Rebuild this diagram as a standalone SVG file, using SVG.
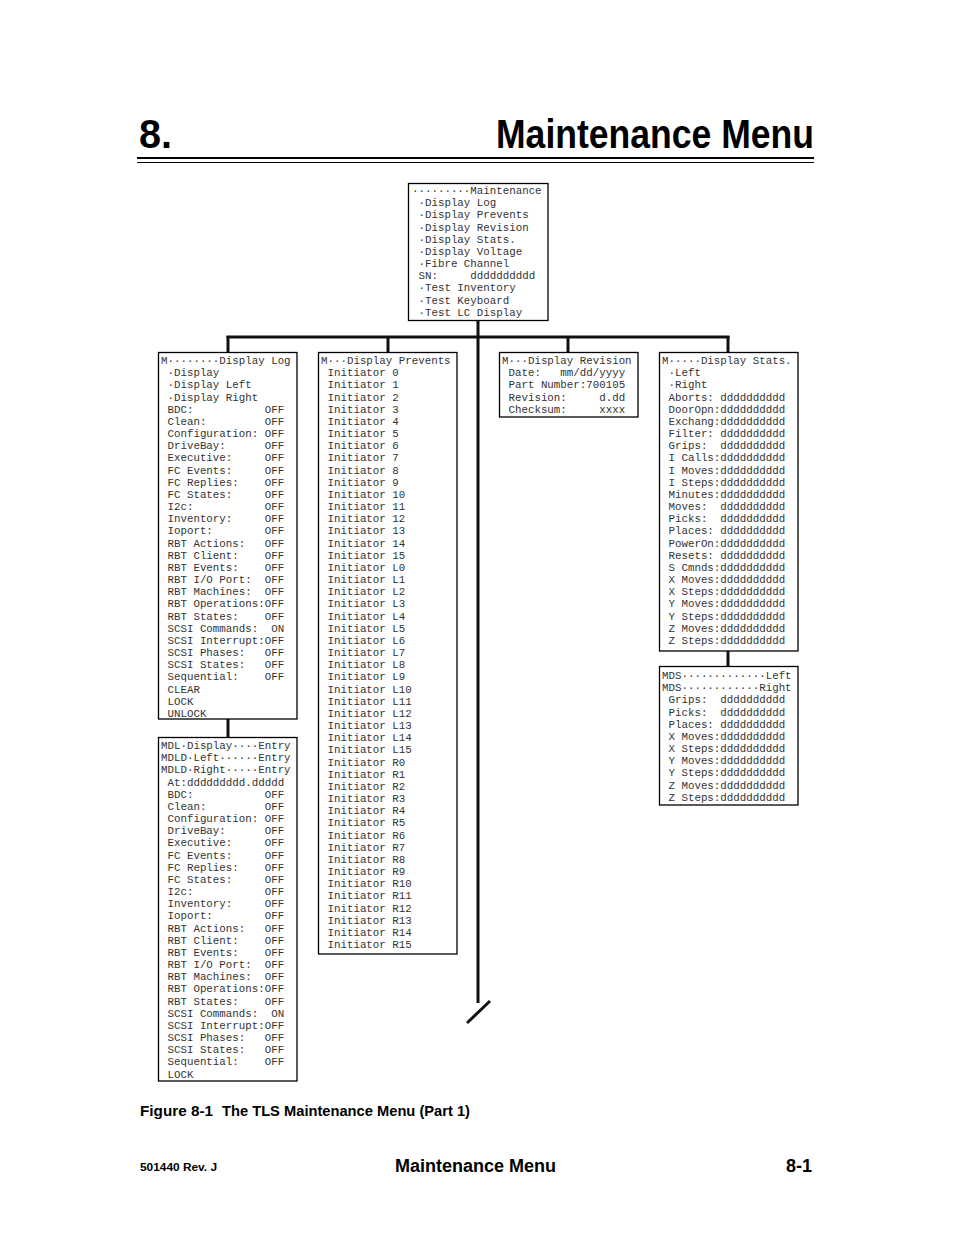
<svg xmlns="http://www.w3.org/2000/svg" width="954" height="1235" viewBox="0 0 954 1235" xml:space="preserve">
<style>
.box{fill:#fff;stroke:#000;stroke-width:1.3}
.mono{font-family:"Liberation Mono","DejaVu Sans Mono",monospace;font-size:10.8px;fill:#333;white-space:pre}
.conn{stroke:#111;stroke-width:3;fill:none}
.hdr{font-family:"Liberation Sans",Arial,sans-serif;font-weight:bold;fill:#000}
</style>
<rect width="954" height="1235" fill="#fff"/>
<g id="header">
<text class="hdr" x="139" y="148" font-size="40" textLength="33" lengthAdjust="spacingAndGlyphs">8.</text>
<text class="hdr" x="496" y="148" font-size="40" textLength="318" lengthAdjust="spacingAndGlyphs">Maintenance Menu</text>
<line x1="137" y1="158" x2="814" y2="158" stroke="#000" stroke-width="2"/>
<line x1="137" y1="162.5" x2="814" y2="162.5" stroke="#000" stroke-width="1"/>
</g>
<g id="connectors">
<line class="conn" x1="478" y1="320" x2="478" y2="1003"/>
<line class="conn" x1="226.5" y1="337" x2="729.5" y2="337"/>
<line class="conn" x1="228" y1="336" x2="228" y2="352"/>
<line class="conn" x1="388" y1="336" x2="388" y2="352"/>
<line class="conn" x1="568" y1="336" x2="568" y2="352"/>
<line class="conn" x1="728" y1="336" x2="728" y2="352"/>
<line class="conn" x1="228" y1="719" x2="228" y2="737"/>
<line class="conn" x1="728" y1="651" x2="728" y2="666"/>
<line class="conn" x1="467" y1="1023" x2="490" y2="1001"/>
</g>
<g id="n-maintenance">
<rect class="box" x="408.5" y="183.5" width="139.5" height="137"/>
<text class="mono" y="194"><tspan x="412">·········Maintenance</tspan><tspan x="412" dy="12.17"> ·Display Log</tspan><tspan x="412" dy="12.17"> ·Display Prevents</tspan><tspan x="412" dy="12.17"> ·Display Revision</tspan><tspan x="412" dy="12.17"> ·Display Stats.</tspan><tspan x="412" dy="12.17"> ·Display Voltage</tspan><tspan x="412" dy="12.17"> ·Fibre Channel</tspan><tspan x="412" dy="12.17"> SN:     dddddddddd</tspan><tspan x="412" dy="12.17"> ·Test Inventory</tspan><tspan x="412" dy="12.17"> ·Test Keyboard</tspan><tspan x="412" dy="12.17"> ·Test LC Display</tspan></text>
</g>
<g id="n-display-log">
<rect class="box" x="158.5" y="352.5" width="138.5" height="366.5"/>
<text class="mono" y="364"><tspan x="161">M········Display Log</tspan><tspan x="161" dy="12.17"> ·Display</tspan><tspan x="161" dy="12.17"> ·Display Left</tspan><tspan x="161" dy="12.17"> ·Display Right</tspan><tspan x="161" dy="12.17"> BDC:           OFF</tspan><tspan x="161" dy="12.17"> Clean:         OFF</tspan><tspan x="161" dy="12.17"> Configuration: OFF</tspan><tspan x="161" dy="12.17"> DriveBay:      OFF</tspan><tspan x="161" dy="12.17"> Executive:     OFF</tspan><tspan x="161" dy="12.17"> FC Events:     OFF</tspan><tspan x="161" dy="12.17"> FC Replies:    OFF</tspan><tspan x="161" dy="12.17"> FC States:     OFF</tspan><tspan x="161" dy="12.17"> I2c:           OFF</tspan><tspan x="161" dy="12.17"> Inventory:     OFF</tspan><tspan x="161" dy="12.17"> Ioport:        OFF</tspan><tspan x="161" dy="12.17"> RBT Actions:   OFF</tspan><tspan x="161" dy="12.17"> RBT Client:    OFF</tspan><tspan x="161" dy="12.17"> RBT Events:    OFF</tspan><tspan x="161" dy="12.17"> RBT I/O Port:  OFF</tspan><tspan x="161" dy="12.17"> RBT Machines:  OFF</tspan><tspan x="161" dy="12.17"> RBT Operations:OFF</tspan><tspan x="161" dy="12.17"> RBT States:    OFF</tspan><tspan x="161" dy="12.17"> SCSI Commands:  ON</tspan><tspan x="161" dy="12.17"> SCSI Interrupt:OFF</tspan><tspan x="161" dy="12.17"> SCSI Phases:   OFF</tspan><tspan x="161" dy="12.17"> SCSI States:   OFF</tspan><tspan x="161" dy="12.17"> Sequential:    OFF</tspan><tspan x="161" dy="12.17"> CLEAR</tspan><tspan x="161" dy="12.17"> LOCK</tspan><tspan x="161" dy="12.17"> UNLOCK</tspan></text>
</g>
<g id="n-mdl">
<rect class="box" x="158.5" y="737.5" width="138.5" height="343.5"/>
<text class="mono" y="749"><tspan x="161">MDL·Display····Entry</tspan><tspan x="161" dy="12.17">MDLD·Left······Entry</tspan><tspan x="161" dy="12.17">MDLD·Right·····Entry</tspan><tspan x="161" dy="12.17"> At:ddddddddd.ddddd</tspan><tspan x="161" dy="12.17"> BDC:           OFF</tspan><tspan x="161" dy="12.17"> Clean:         OFF</tspan><tspan x="161" dy="12.17"> Configuration: OFF</tspan><tspan x="161" dy="12.17"> DriveBay:      OFF</tspan><tspan x="161" dy="12.17"> Executive:     OFF</tspan><tspan x="161" dy="12.17"> FC Events:     OFF</tspan><tspan x="161" dy="12.17"> FC Replies:    OFF</tspan><tspan x="161" dy="12.17"> FC States:     OFF</tspan><tspan x="161" dy="12.17"> I2c:           OFF</tspan><tspan x="161" dy="12.17"> Inventory:     OFF</tspan><tspan x="161" dy="12.17"> Ioport:        OFF</tspan><tspan x="161" dy="12.17"> RBT Actions:   OFF</tspan><tspan x="161" dy="12.17"> RBT Client:    OFF</tspan><tspan x="161" dy="12.17"> RBT Events:    OFF</tspan><tspan x="161" dy="12.17"> RBT I/O Port:  OFF</tspan><tspan x="161" dy="12.17"> RBT Machines:  OFF</tspan><tspan x="161" dy="12.17"> RBT Operations:OFF</tspan><tspan x="161" dy="12.17"> RBT States:    OFF</tspan><tspan x="161" dy="12.17"> SCSI Commands:  ON</tspan><tspan x="161" dy="12.17"> SCSI Interrupt:OFF</tspan><tspan x="161" dy="12.17"> SCSI Phases:   OFF</tspan><tspan x="161" dy="12.17"> SCSI States:   OFF</tspan><tspan x="161" dy="12.17"> Sequential:    OFF</tspan><tspan x="161" dy="12.17"> LOCK</tspan></text>
</g>
<g id="n-display-prevents">
<rect class="box" x="318.5" y="352.5" width="138.5" height="601.5"/>
<text class="mono" y="364"><tspan x="321">M···Display Prevents</tspan><tspan x="321" dy="12.17"> Initiator 0</tspan><tspan x="321" dy="12.17"> Initiator 1</tspan><tspan x="321" dy="12.17"> Initiator 2</tspan><tspan x="321" dy="12.17"> Initiator 3</tspan><tspan x="321" dy="12.17"> Initiator 4</tspan><tspan x="321" dy="12.17"> Initiator 5</tspan><tspan x="321" dy="12.17"> Initiator 6</tspan><tspan x="321" dy="12.17"> Initiator 7</tspan><tspan x="321" dy="12.17"> Initiator 8</tspan><tspan x="321" dy="12.17"> Initiator 9</tspan><tspan x="321" dy="12.17"> Initiator 10</tspan><tspan x="321" dy="12.17"> Initiator 11</tspan><tspan x="321" dy="12.17"> Initiator 12</tspan><tspan x="321" dy="12.17"> Initiator 13</tspan><tspan x="321" dy="12.17"> Initiator 14</tspan><tspan x="321" dy="12.17"> Initiator 15</tspan><tspan x="321" dy="12.17"> Initiator L0</tspan><tspan x="321" dy="12.17"> Initiator L1</tspan><tspan x="321" dy="12.17"> Initiator L2</tspan><tspan x="321" dy="12.17"> Initiator L3</tspan><tspan x="321" dy="12.17"> Initiator L4</tspan><tspan x="321" dy="12.17"> Initiator L5</tspan><tspan x="321" dy="12.17"> Initiator L6</tspan><tspan x="321" dy="12.17"> Initiator L7</tspan><tspan x="321" dy="12.17"> Initiator L8</tspan><tspan x="321" dy="12.17"> Initiator L9</tspan><tspan x="321" dy="12.17"> Initiator L10</tspan><tspan x="321" dy="12.17"> Initiator L11</tspan><tspan x="321" dy="12.17"> Initiator L12</tspan><tspan x="321" dy="12.17"> Initiator L13</tspan><tspan x="321" dy="12.17"> Initiator L14</tspan><tspan x="321" dy="12.17"> Initiator L15</tspan><tspan x="321" dy="12.17"> Initiator R0</tspan><tspan x="321" dy="12.17"> Initiator R1</tspan><tspan x="321" dy="12.17"> Initiator R2</tspan><tspan x="321" dy="12.17"> Initiator R3</tspan><tspan x="321" dy="12.17"> Initiator R4</tspan><tspan x="321" dy="12.17"> Initiator R5</tspan><tspan x="321" dy="12.17"> Initiator R6</tspan><tspan x="321" dy="12.17"> Initiator R7</tspan><tspan x="321" dy="12.17"> Initiator R8</tspan><tspan x="321" dy="12.17"> Initiator R9</tspan><tspan x="321" dy="12.17"> Initiator R10</tspan><tspan x="321" dy="12.17"> Initiator R11</tspan><tspan x="321" dy="12.17"> Initiator R12</tspan><tspan x="321" dy="12.17"> Initiator R13</tspan><tspan x="321" dy="12.17"> Initiator R14</tspan><tspan x="321" dy="12.17"> Initiator R15</tspan></text>
</g>
<g id="n-display-revision">
<rect class="box" x="499.5" y="352.5" width="138.5" height="64.5"/>
<text class="mono" y="364"><tspan x="502">M···Display Revision</tspan><tspan x="502" dy="12.17"> Date:   mm/dd/yyyy</tspan><tspan x="502" dy="12.17"> Part Number:700105</tspan><tspan x="502" dy="12.17"> Revision:     d.dd</tspan><tspan x="502" dy="12.17"> Checksum:     xxxx</tspan></text>
</g>
<g id="n-display-stats">
<rect class="box" x="659.5" y="352.5" width="138.5" height="298.5"/>
<text class="mono" y="364"><tspan x="662">M·····Display Stats.</tspan><tspan x="662" dy="12.17"> ·Left</tspan><tspan x="662" dy="12.17"> ·Right</tspan><tspan x="662" dy="12.17"> Aborts: dddddddddd</tspan><tspan x="662" dy="12.17"> DoorOpn:dddddddddd</tspan><tspan x="662" dy="12.17"> Exchang:dddddddddd</tspan><tspan x="662" dy="12.17"> Filter: dddddddddd</tspan><tspan x="662" dy="12.17"> Grips:  dddddddddd</tspan><tspan x="662" dy="12.17"> I Calls:dddddddddd</tspan><tspan x="662" dy="12.17"> I Moves:dddddddddd</tspan><tspan x="662" dy="12.17"> I Steps:dddddddddd</tspan><tspan x="662" dy="12.17"> Minutes:dddddddddd</tspan><tspan x="662" dy="12.17"> Moves:  dddddddddd</tspan><tspan x="662" dy="12.17"> Picks:  dddddddddd</tspan><tspan x="662" dy="12.17"> Places: dddddddddd</tspan><tspan x="662" dy="12.17"> PowerOn:dddddddddd</tspan><tspan x="662" dy="12.17"> Resets: dddddddddd</tspan><tspan x="662" dy="12.17"> S Cmnds:dddddddddd</tspan><tspan x="662" dy="12.17"> X Moves:dddddddddd</tspan><tspan x="662" dy="12.17"> X Steps:dddddddddd</tspan><tspan x="662" dy="12.17"> Y Moves:dddddddddd</tspan><tspan x="662" dy="12.17"> Y Steps:dddddddddd</tspan><tspan x="662" dy="12.17"> Z Moves:dddddddddd</tspan><tspan x="662" dy="12.17"> Z Steps:dddddddddd</tspan></text>
</g>
<g id="n-mds">
<rect class="box" x="659.5" y="666.5" width="138.5" height="138.5"/>
<text class="mono" y="679"><tspan x="662">MDS·············Left</tspan><tspan x="662" dy="12.17">MDS············Right</tspan><tspan x="662" dy="12.17"> Grips:  dddddddddd</tspan><tspan x="662" dy="12.17"> Picks:  dddddddddd</tspan><tspan x="662" dy="12.17"> Places: dddddddddd</tspan><tspan x="662" dy="12.17"> X Moves:dddddddddd</tspan><tspan x="662" dy="12.17"> X Steps:dddddddddd</tspan><tspan x="662" dy="12.17"> Y Moves:dddddddddd</tspan><tspan x="662" dy="12.17"> Y Steps:dddddddddd</tspan><tspan x="662" dy="12.17"> Z Moves:dddddddddd</tspan><tspan x="662" dy="12.17"> Z Steps:dddddddddd</tspan></text>
</g>
<g id="caption">
<text class="hdr" x="140" y="1116" font-size="15" textLength="73" lengthAdjust="spacingAndGlyphs">Figure 8-1</text>
<text class="hdr" x="222" y="1116" font-size="15" textLength="248" lengthAdjust="spacingAndGlyphs">The TLS Maintenance Menu (Part 1)</text>
</g>
<g id="footer">
<text class="hdr" x="140" y="1171" font-size="11" textLength="77" lengthAdjust="spacingAndGlyphs">501440 Rev. J</text>
<text class="hdr" x="395" y="1172" font-size="18" font-weight="600" textLength="161" lengthAdjust="spacingAndGlyphs">Maintenance Menu</text>
<text class="hdr" x="786" y="1172" font-size="18" textLength="26" lengthAdjust="spacingAndGlyphs">8-1</text>
</g>
</svg>
